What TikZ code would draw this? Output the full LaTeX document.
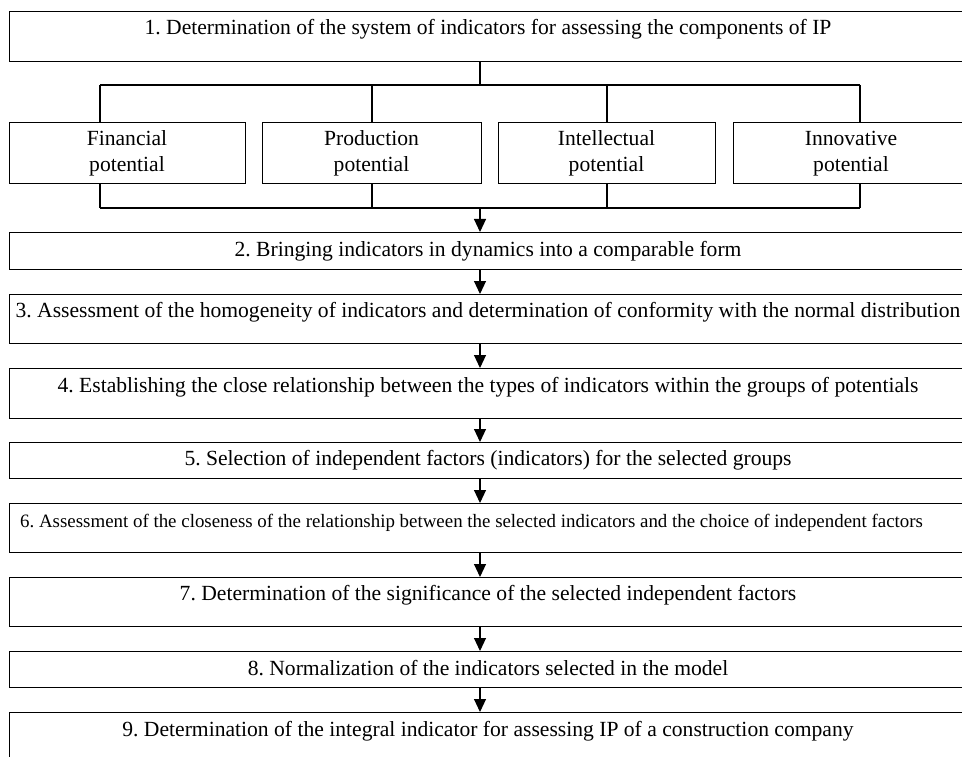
\documentclass[tikz,border=0pt]{standalone}
\usepackage{fontspec}
\setmainfont{Liberation Serif}
\usetikzlibrary{arrows.meta}
\frenchspacing
\begin{document}
\frenchspacing
\begin{tikzpicture}[x=1pt,y=-1pt,
  box/.style={draw=black, line width=1.1pt, rectangle, inner sep=0pt, anchor=north west},
  steptext/.style={anchor=base, inner sep=0pt, font=\fontsize{21.6}{26}\selectfont\frenchspacing},
  smalltext/.style={anchor=base west, inner sep=0pt, font=\fontsize{18.9}{22}\selectfont\frenchspacing},
  pottext/.style={anchor=base, inner sep=0pt, font=\fontsize{21.6}{26}\selectfont},
  conn/.style={draw=black, line width=1.1pt},
  arr/.style={conn, -{Triangle[width=12pt,length=13pt]}}
]
\useasboundingbox (0,0) rectangle (962,757);
\clip (0,0) rectangle (962,757);
\fill[white] (0,0) rectangle (962,757);

% step 1
\node[box, minimum width=958pt, minimum height=50pt] (b1) at (9,11) {};
\node[steptext] (t1) at (488,35) {1. Determination of the system of indicators for assessing the components of IP};

% potential boxes
\node[box, minimum width=236pt, minimum height=61pt] (p1) at (9,122) {};
\node[box, minimum width=219pt, minimum height=61pt] (p2) at (262,122) {};
\node[box, minimum width=217pt, minimum height=61pt] (p3) at (498,122) {};
\node[box, minimum width=236pt, minimum height=61pt] (p4) at (733,122) {};
\node[pottext] (p1a) at (127,146) {Financial};
\node[pottext] (p1b) at (127,172) {potential};
\node[pottext] (p2a) at (371.5,146) {Production};
\node[pottext] (p2b) at (371.5,172) {potential};
\node[pottext] (p3a) at (606.5,146) {Intellectual};
\node[pottext] (p3b) at (606.5,172) {potential};
\node[pottext] (p4a) at (851,146) {Innovative};
\node[pottext] (p4b) at (851,172) {potential};

% steps 2-9
\node[box, minimum width=958pt, minimum height=37pt] (b2) at (9,232) {};
\node[steptext] (t2) at (488,256) {2. Bringing indicators in dynamics into a comparable form};
\node[box, minimum width=958pt, minimum height=49pt] (b3) at (9,294) {};
\node[steptext] (t3) at (488,317) {3. Assessment of the homogeneity of indicators and determination of conformity with the normal distribution};
\node[box, minimum width=958pt, minimum height=50pt] (b4) at (9,368) {};
\node[steptext] (t4) at (488,392) {4. Establishing the close relationship between the types of indicators within the groups of potentials};
\node[box, minimum width=958pt, minimum height=36pt] (b5) at (9,442) {};
\node[steptext] (t5) at (488,465) {5. Selection of independent factors (indicators) for the selected groups};
\node[box, minimum width=958pt, minimum height=49pt] (b6) at (9,503) {};
\node[smalltext] (t6) at (20,527) {6. Assessment of the closeness of the relationship between the selected indicators and the choice of independent factors};
\node[box, minimum width=958pt, minimum height=49pt] (b7) at (9,577) {};
\node[steptext] (t7) at (488,600) {7. Determination of the significance of the selected independent factors};
\node[box, minimum width=958pt, minimum height=36pt] (b8) at (9,651) {};
\node[steptext] (t8) at (488,675) {8. Normalization of the indicators selected in the model};
\node[box, minimum width=958pt, minimum height=70pt] (b9) at (9,712) {};
\node[steptext] (t9) at (488,736) {9. Determination of the integral indicator for assessing IP of a construction company};

% tree junctions
\coordinate (jt) at (480,85);
\coordinate (jb) at (480,208);
\coordinate (ja1) at (100,85);
\coordinate (ja2) at (372,85);
\coordinate (ja3) at (607,85);
\coordinate (ja4) at (860,85);
\coordinate (jc1) at (100,208);
\coordinate (jc2) at (372,208);
\coordinate (jc3) at (607,208);
\coordinate (jc4) at (860,208);

\draw[conn] (jt |- b1.south) -- (jt);
\draw[conn] (ja1) -- (ja4);
\foreach \k in {1,2,3,4}{
  \draw[conn] (ja\k) -- (ja\k |- p\k.north);
  \draw[conn] (jc\k |- p\k.south) -- (jc\k);
}
\draw[conn] (jc1) -- (jc4);
\draw[arr] (jb) -- (jb |- b2.north);

% arrows between steps
\draw[arr] (jb |- b2.south) -- (jb |- b3.north);
\draw[arr] (jb |- b3.south) -- (jb |- b4.north);
\draw[arr] (jb |- b4.south) -- (jb |- b5.north);
\draw[arr] (jb |- b5.south) -- (jb |- b6.north);
\draw[arr] (jb |- b6.south) -- (jb |- b7.north);
\draw[arr] (jb |- b7.south) -- (jb |- b8.north);
\draw[arr] (jb |- b8.south) -- (jb |- b9.north);
\end{tikzpicture}
\end{document}
